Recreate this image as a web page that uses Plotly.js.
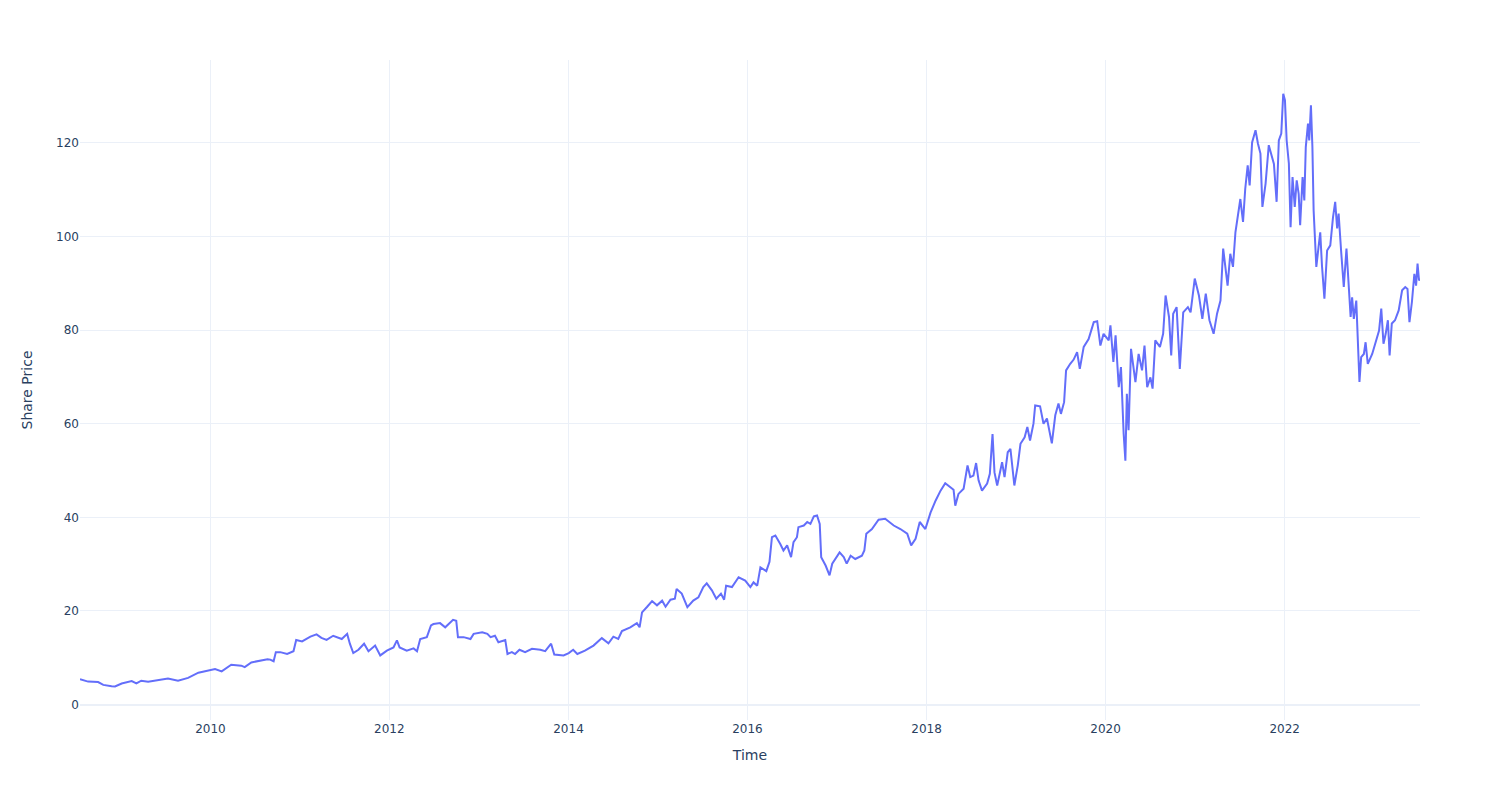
<!DOCTYPE html>
<html>
<head>
<meta charset="utf-8">
<script src="https://cdn.plot.ly/plotly-3.0.1.min.js"></script>
<style>html,body{margin:0;padding:0;background:#fff;}#chart{width:1500px;height:800px;}</style>
</head>
<body>
<div id="chart"></div>
<script>
const dates = [
'2008-07-18','2008-08-20','2008-09-30','2008-10-21','2008-11-24','2008-12-08',
'2009-01-04','2009-02-14','2009-03-05','2009-03-25','2009-04-22','2009-06-02','2009-07-12','2009-08-22','2009-10-02','2009-11-13','2009-12-23',
'2010-01-20','2010-02-16','2010-03-27','2010-05-07','2010-05-21','2010-06-17','2010-07-25','2010-08-22','2010-09-02','2010-09-16','2010-09-25','2010-10-13','2010-11-10','2010-12-06','2010-12-17',
'2011-01-10','2011-02-13','2011-03-10','2011-03-30','2011-04-20','2011-05-17','2011-06-21','2011-07-13','2011-07-24','2011-08-07','2011-08-28','2011-09-20','2011-10-08','2011-11-04','2011-11-25','2011-12-22',
'2012-01-18','2012-02-01','2012-02-12','2012-03-12','2012-04-09','2012-04-23','2012-05-06','2012-06-02','2012-06-19','2012-06-29','2012-07-26','2012-08-16','2012-09-06','2012-09-17','2012-09-30','2012-10-07','2012-10-30','2012-11-27','2012-12-10',
'2013-01-14','2013-02-04','2013-02-17','2013-03-07','2013-03-21','2013-04-18','2013-04-27','2013-05-15','2013-05-28','2013-06-15','2013-07-08','2013-08-05','2013-09-08','2013-09-28','2013-10-22','2013-11-04','2013-12-12',
'2014-01-02','2014-01-20','2014-02-06','2014-03-09','2014-04-13','2014-05-17','2014-06-13','2014-07-03','2014-07-23','2014-08-07','2014-09-10','2014-10-07','2014-10-18','2014-10-28','2014-11-18','2014-12-08','2014-12-28',
'2015-01-18','2015-02-01','2015-02-21','2015-03-11','2015-03-18','2015-04-08','2015-05-01','2015-05-25','2015-06-15','2015-07-05','2015-07-19','2015-08-09','2015-08-27','2015-09-15','2015-09-28','2015-10-06','2015-10-30','2015-11-26','2015-12-23',
'2016-01-13','2016-01-26','2016-02-10','2016-02-23','2016-03-18','2016-03-31','2016-04-10','2016-04-24','2016-05-14','2016-05-27','2016-06-11','2016-06-27','2016-07-07','2016-07-21','2016-07-27','2016-08-18','2016-09-01','2016-09-14','2016-09-28','2016-10-11','2016-10-22','2016-10-28','2016-11-15','2016-12-01','2016-12-12',
'2017-01-11','2017-01-28','2017-02-09','2017-02-25','2017-03-16','2017-04-12','2017-04-22','2017-04-30','2017-05-23','2017-06-19','2017-07-16','2017-08-20','2017-09-16','2017-10-14','2017-10-30','2017-11-17','2017-12-04','2017-12-27',
'2018-01-17','2018-02-07','2018-02-27','2018-03-18','2018-04-07','2018-04-21','2018-04-28','2018-05-11','2018-06-01','2018-06-17','2018-06-28','2018-07-11','2018-07-22','2018-08-01','2018-08-15','2018-09-05','2018-09-16','2018-09-27','2018-10-05','2018-10-16','2018-10-29','2018-11-05','2018-11-15','2018-11-28','2018-12-09','2018-12-20','2018-12-25',
'2019-01-08','2019-01-19','2019-02-05','2019-02-16','2019-02-27','2019-03-13','2019-03-20','2019-04-09','2019-04-23','2019-05-07','2019-05-27','2019-06-10','2019-06-23','2019-07-03','2019-07-16','2019-07-24','2019-08-10','2019-08-24','2019-09-07','2019-09-18','2019-10-04','2019-10-24','2019-11-14','2019-11-28','2019-12-11','2019-12-24',
'2020-01-14','2020-01-21','2020-02-02','2020-02-11','2020-02-24','2020-03-04','2020-03-15','2020-03-22','2020-03-28','2020-04-04','2020-04-14','2020-05-02','2020-05-15','2020-05-29','2020-06-08','2020-06-19','2020-07-02','2020-07-11','2020-07-22','2020-08-10','2020-08-23','2020-09-02','2020-09-16','2020-09-25','2020-10-03','2020-10-17','2020-10-30','2020-11-13','2020-12-02','2020-12-13','2020-12-30',
'2021-01-16','2021-01-30','2021-02-13','2021-02-28','2021-03-17','2021-03-31','2021-04-14','2021-04-25','2021-05-08','2021-05-13','2021-05-24','2021-06-04','2021-06-14','2021-06-23','2021-07-04','2021-07-15','2021-07-24','2021-08-03','2021-08-11','2021-08-21','2021-09-04','2021-09-14','2021-09-24','2021-10-02','2021-10-15','2021-10-28','2021-11-09','2021-11-18','2021-11-29','2021-12-08','2021-12-18','2021-12-26',
'2022-01-02','2022-01-09','2022-01-18','2022-01-25','2022-02-02','2022-02-11','2022-02-19','2022-02-27','2022-03-05','2022-03-15','2022-03-22','2022-03-28','2022-04-06','2022-04-11','2022-04-18','2022-04-24','2022-04-29','2022-05-06','2022-05-10','2022-05-19','2022-05-26','2022-06-02','2022-06-12','2022-06-23','2022-07-06','2022-07-17','2022-07-26','2022-08-03','2022-08-09','2022-08-19','2022-08-30','2022-09-10','2022-09-20','2022-09-27','2022-10-03','2022-10-10','2022-10-20','2022-10-26','2022-11-02','2022-11-09','2022-11-20','2022-11-27','2022-12-06','2022-12-24',
'2023-01-11','2023-01-21','2023-01-30','2023-02-08','2023-02-17','2023-02-26','2023-03-05','2023-03-14','2023-03-27','2023-04-11','2023-04-25','2023-05-08','2023-05-17','2023-05-25','2023-06-04','2023-06-14','2023-06-21','2023-06-27','2023-07-03','2023-07-07'
];
const prices = [
5.4,4.9,4.8,4.2,3.9,3.85,
4.5,5.0,4.5,5.1,4.9,5.3,5.55,5.1,5.7,6.8,7.3,
7.6,7.1,8.5,8.3,8.0,9.0,9.4,9.7,9.6,9.25,11.2,11.2,10.8,11.4,13.8,
13.5,14.5,15.0,14.25,13.8,14.7,14.0,15.1,13.0,11.0,11.7,13.0,11.4,12.6,10.5,11.5,
12.2,13.7,12.2,11.5,12.0,11.4,14.0,14.4,16.9,17.2,17.4,16.5,17.6,18.1,17.9,14.4,14.4,14.0,15.1,
15.45,15.1,14.4,14.7,13.3,13.8,10.8,11.2,10.8,11.7,11.2,11.9,11.7,11.4,13.0,10.7,10.5,
11.0,11.7,10.8,11.5,12.6,14.2,13.1,14.5,14.0,15.7,16.5,17.4,16.5,19.7,20.9,22.1,21.2,
22.2,20.9,22.4,22.6,24.7,23.7,20.8,22.2,22.9,25.1,25.9,24.4,22.6,23.7,22.4,25.4,25.1,27.2,26.5,
25.1,26.1,25.4,29.3,28.5,30.5,35.75,36.1,34.3,32.9,34.0,31.5,34.7,35.75,37.9,38.25,39.0,38.6,40.2,40.4,38.6,31.5,29.7,27.6,30.1,
32.5,31.5,30.1,31.8,31.1,31.8,32.9,36.5,37.5,39.5,39.7,38.25,37.5,36.5,34.0,35.4,39.0,37.5,
41.0,43.6,45.7,47.3,46.4,45.9,42.5,45.0,46.1,51.1,48.6,48.9,51.6,47.9,45.7,47.2,49.3,57.8,49.6,46.8,50.0,51.8,48.6,53.9,54.6,49.3,46.8,
51.1,55.7,57.1,59.3,56.4,60.0,63.9,63.7,60.0,61.1,55.8,61.8,64.3,62.1,64.6,71.4,72.8,73.7,75.3,71.7,76.4,78.1,81.7,81.9,76.7,79.2,
77.8,81.0,73.2,78.9,67.8,72.1,57.8,52.1,66.4,58.6,76.0,68.9,74.9,71.4,76.7,67.8,69.9,67.5,77.8,76.4,79.2,87.4,82.8,74.6,83.5,84.9,71.7,83.8,84.9,83.8,91.0,
87.4,82.4,87.8,82.1,79.2,83.5,86.3,97.4,92.4,89.5,96.3,93.5,100.9,104.5,108.0,103.1,110.2,115.2,110.9,120.1,122.7,119.8,117.7,106.3,111.3,119.5,117.0,115.5,107.4,120.5,122.0,130.5,
129.1,120.5,115.6,102.0,112.7,106.3,112.0,109.1,102.4,112.7,107.7,119.1,124.1,120.5,128.0,119.1,105.6,97.7,93.5,97.7,100.9,93.8,86.7,97.0,98.1,104.1,107.4,101.7,104.9,97.0,89.2,97.4,87.8,82.8,87.0,82.4,86.3,76.4,68.9,74.2,74.9,77.4,72.8,74.9,
77.8,79.9,84.6,77.1,79.2,82.1,74.6,81.4,82.1,84.2,88.5,89.2,88.8,81.7,86.0,92.0,89.5,94.2,90.6,91.0
];
const xTitle = 'Time';
const yTitle = 'Share Price';

const trace = {
  x: dates, y: prices, type: 'scatter', mode: 'lines',
  line: {color: '#636efa', width: 2}, showlegend: false
};
const axisCommon = {
  gridcolor: '#EBF0F8', showline: false, zerolinecolor: '#EBF0F8', zerolinewidth: 2,
  ticks: '', automargin: true
};
const layout = {
  width: 1500, height: 800,
  margin: {t: 60, b: 80, l: 80, r: 80},
  paper_bgcolor: 'white', plot_bgcolor: 'white',
  font: {family: '"DejaVu Sans", verdana, arial, sans-serif', color: '#2a3f5f', size: 12},
  xaxis: Object.assign({}, axisCommon, {
    type: 'date', title: {text: xTitle, font: {size: 14}, standoff: 15},
    range: ['2008-07-18', '2023-07-07'], dtick: 'M24', tick0: '2010-01-01', tickformat: '%Y'
  }),
  yaxis: Object.assign({}, axisCommon, {
    title: {text: yTitle, font: {size: 14}, standoff: 20},
    range: [-3.3, 137.7], dtick: 20, tick0: 0
  })
};
Plotly.newPlot('chart', [trace], layout, {displayModeBar: false, staticPlot: true});
</script>
</body>
</html>
